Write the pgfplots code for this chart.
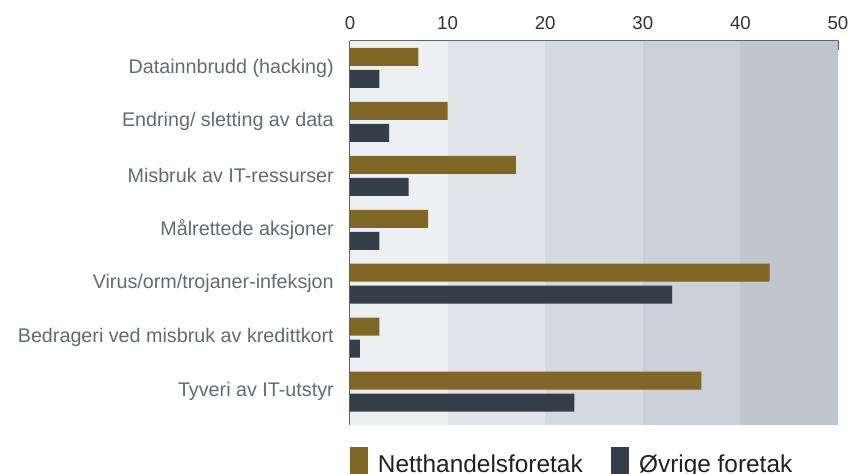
\documentclass[border=0pt]{standalone}
\usepackage{pgfplots}
\pgfplotsset{compat=1.18}
\usepackage{fontspec}
\setmainfont{Liberation Sans}
\definecolor{brownbar}{HTML}{7F6624}
\definecolor{darkbar}{HTML}{343E48}
\definecolor{bandA}{HTML}{EDF0F3}
\definecolor{bandB}{HTML}{E0E4E9}
\definecolor{bandC}{HTML}{D5DAE1}
\definecolor{bandD}{HTML}{CAD0D8}
\definecolor{bandE}{HTML}{C0C6CE}
\definecolor{labgray}{HTML}{5F6B75}
\begin{document}
\begin{tikzpicture}
\begin{axis}[
  name=ax,
  at={(0,0)}, anchor=south west,
  scale only axis,
  width=366pt, height=288pt,
  xmin=0, xmax=50,
  ymin=-0.62, ymax=6.5,
  axis x line*=top,
  axis y line*=left,
  axis line style={draw=black!60, line width=0.9pt},
  xtick={0,10,20,30,40,50},
  minor x tick num=1,
  major tick length=6.75pt,
  minor tick length=6.75pt,
  tick style={draw=black!65, line width=0.9pt},
  ytick={0,1,2,3,4,5,6},
  yticklabels={Tyveri av IT-utstyr,Bedrageri ved misbruk av kredittkort,Virus/orm/trojaner-infeksjon,Målrettede aksjoner,Misbruk av IT-ressurser,Endring/ sletting av data,Datainnbrudd (hacking)},
  ytick style={draw=none},
  y tick label style={font=\fontsize{14.8}{16}\selectfont, text=labgray, inner sep=0pt, xshift=-5.25pt},
  x tick label style={font=\fontsize{14}{16}\selectfont, text=black!80, inner sep=0pt, yshift=8pt},
  /pgf/number format/assume math mode=true,
  xbar,
  bar width=13.5pt,
  clip=false,
  legend columns=2,
  legend style={at={(axis description cs:0,-0.0573)}, anchor=north west, draw=none, fill=none,
    font=\fontsize{18.3}{20}\selectfont, text=black!87, inner sep=0pt,
    /tikz/every odd column/.append style={column sep=5.25pt},
    /tikz/every even column/.append style={column sep=19.5pt}},
  legend image code/.code={\fill[#1] (0pt,-10pt) rectangle (13.5pt,13pt);},
]
\fill[bandA] (axis cs:0,-0.62) rectangle (axis cs:10,6.5);
\fill[bandB] (axis cs:10,-0.62) rectangle (axis cs:20,6.5);
\fill[bandC] (axis cs:20,-0.62) rectangle (axis cs:30,6.5);
\fill[bandD] (axis cs:30,-0.62) rectangle (axis cs:40,6.5);
\fill[bandE] (axis cs:40,-0.62) rectangle (axis cs:50,6.5);
\addplot[fill=brownbar, draw=none, bar shift=8.25pt] coordinates {
  (7,6) (10,5) (17,4) (8,3) (43,2) (3,1) (36,0)};
\addlegendentry{Netthandelsforetak}
\addplot[fill=darkbar, draw=none, bar shift=-8.25pt] coordinates {
  (3,6) (4,5) (6,4) (3,3) (33,2) (1,1) (23,0)};
\addlegendentry{Øvrige foretak}
\end{axis}
\pgfresetboundingbox
\path[shift={(ax.south west)}] (-262.5pt,-36.75pt) rectangle (375.75pt,318.75pt);
\end{tikzpicture}
\end{document}
